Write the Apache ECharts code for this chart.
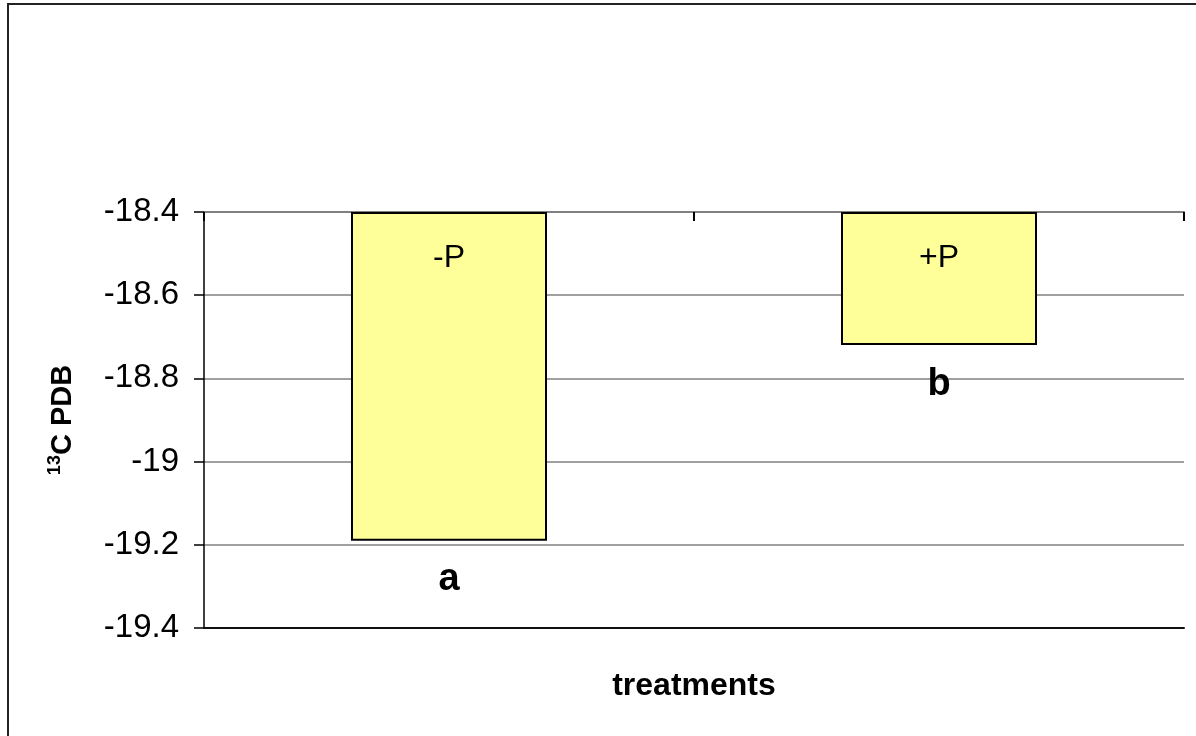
<!DOCTYPE html>
<html>
<head>
<meta charset="utf-8">
<title>13C PDB by treatment</title>
<script src="https://cdn.jsdelivr.net/npm/echarts@6/dist/echarts.min.js"></script>
<style>
  html, body { margin: 0; padding: 0; background: #ffffff; }
  #chart { width: 1196px; height: 736px; }
</style>
</head>
<body>
<div id="chart"></div>
<script>
// Treatments and their mean delta 13C (PDB) values
const treatments = ['-P', '+P'];
const delta13C = [-19.19, -18.72];
// Significance letters shown under each bar
const sigLetters = ['a', 'b'];
// Value axis range and step
const yMin = -19.4;
const yMax = -18.4;
const yStep = 0.2;

const FONT = '"Liberation Sans", Arial, sans-serif';

const chart = echarts.init(document.getElementById('chart'), null, { renderer: 'canvas' });

chart.setOption({
  animation: false,
  backgroundColor: '#ffffff',
  textStyle: { fontFamily: FONT, color: '#000' },
  grid: {
    left: 204, right: 12, top: 212, bottom: 108,
    containLabel: false,
    outerBoundsMode: 'none'
  },
  graphic: [{
    type: 'rect',
    silent: true,
    shape: { x: 8, y: 4, width: 1210, height: 760 },
    style: { fill: 'none', stroke: '#222', lineWidth: 2 },
    z: 100
  }],
  xAxis: [{
    type: 'category',
    position: 'top',
    data: treatments,
    boundaryGap: true,
    axisLine: { show: true, lineStyle: { color: '#808080', width: 2 } },
    axisTick: { show: true, inside: true, length: 9, lineStyle: { color: '#000', width: 2 } },
    axisLabel: { show: false },
    splitLine: { show: false }
  }, {
    type: 'category',
    position: 'bottom',
    data: treatments,
    boundaryGap: true,
    axisLine: { show: true, lineStyle: { color: '#111', width: 2 } },
    axisTick: { show: false },
    axisLabel: { show: false },
    splitLine: { show: false },
    name: 'treatments',
    nameLocation: 'middle',
    nameGap: 42,
    nameTextStyle: { fontFamily: FONT, fontSize: 32, fontWeight: 'bold', color: '#000' }
  }],
  yAxis: {
    type: 'value',
    min: yMin,
    max: yMax,
    interval: yStep,
    startValue: yMax,
    axisLine: { show: true, lineStyle: { color: '#000', width: 1.5 } },
    axisTick: { show: true, inside: false, length: 10, lineStyle: { color: '#000', width: 1.5 } },
    axisLabel: {
      margin: 25,
      fontFamily: FONT,
      fontSize: 33,
      color: '#000',
      formatter: v => String(+v.toFixed(1))
    },
    splitLine: { show: true, lineStyle: { color: '#808080', width: 1.5 } },
    name: '{sup|13}{main|C PDB}',
    nameLocation: 'middle',
    nameRotate: 90,
    nameGap: 124,
    nameTextStyle: {
      fontFamily: FONT,
      rich: {
        main: { fontFamily: FONT, fontSize: 29, fontWeight: 'bold', color: '#000', lineHeight: 34 },
        sup: { fontFamily: FONT, fontSize: 18, fontWeight: 'bold', color: '#000', lineHeight: 12, verticalAlign: 'top' }
      }
    }
  },
  series: [{
    type: 'bar',
    xAxisIndex: 0,
    data: delta13C,
    barWidth: '40%',
    itemStyle: { color: '#FFFF99', borderColor: '#000', borderWidth: 2 },
    label: {
      show: true,
      position: 'insideTop',
      distance: 30,
      fontFamily: FONT,
      fontSize: 32,
      color: '#000',
      formatter: p => treatments[p.dataIndex]
    },
    silent: true
  }, {
    type: 'scatter',
    xAxisIndex: 0,
    data: delta13C,
    symbolSize: 2,
    itemStyle: { color: 'rgba(0,0,0,0)', opacity: 1 },
    label: {
      show: true,
      position: 'bottom',
      distance: 19,
      fontFamily: FONT,
      fontSize: 38,
      fontWeight: 'bold',
      color: '#000',
      formatter: p => sigLetters[p.dataIndex]
    },
    silent: true
  }]
});
</script>
</body>
</html>
